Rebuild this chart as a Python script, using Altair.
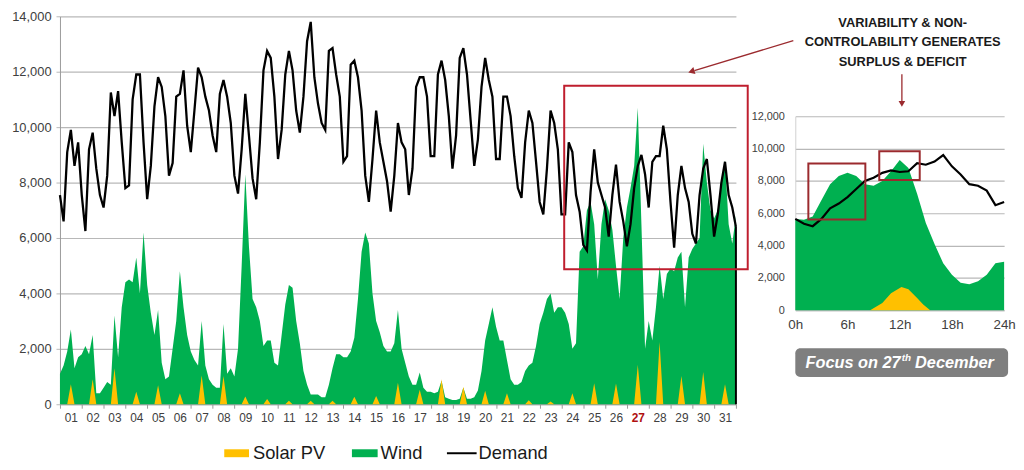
import altair as alt
import pandas as pd

# ---------------- data ----------------
DAY_LABELS = [f"{d:02d}" for d in range(1, 32)]
HOURS_OF_DAY = [0, 4, 8, 12, 16, 20]

demand_by_day = [
    [7550, 6600, 9100, 9900, 8600, 9450],
    [7550, 6250, 9200, 9800, 8500, 7550],
    [7100, 8250, 11250, 10400, 11300, 9450],
    [7800, 7900, 11000, 11900, 11900, 9450],
    [7400, 8600, 10750, 11800, 11450, 10400],
    [8250, 8700, 11100, 11200, 12050, 10050],
    [9100, 10600, 12150, 11800, 11100, 10600],
    [9700, 9100, 11200, 11700, 11100, 10150],
    [8250, 7600, 9200, 11200, 9700, 8150],
    [7400, 9450, 12050, 12750, 12500, 11100],
    [8850, 9900, 11900, 12750, 12050, 10600],
    [9800, 11100, 13100, 13800, 11800, 10850],
    [10150, 9900, 12750, 12850, 11900, 11100],
    [8750, 8950, 12250, 12400, 11800, 10600],
    [8250, 7300, 8850, 10600, 9450, 8750],
    [8050, 6950, 8250, 10150, 9450, 9200],
    [7550, 8500, 11450, 11800, 11800, 11100],
    [8950, 8950, 11900, 12400, 11700, 10400],
    [8500, 9700, 12500, 12850, 11900, 10250],
    [8600, 9550, 11450, 12500, 11700, 11100],
    [8850, 8850, 11100, 11100, 10400, 8950],
    [7800, 7450, 9450, 10600, 10150, 8750],
    [7300, 6850, 8500, 10600, 10150, 9200],
    [6850, 6850, 9450, 9100, 7550, 6950],
    [5750, 5550, 7650, 9200, 8000, 7550],
    [7100, 6050, 7550, 8650, 7300, 6600],
    [5700, 6500, 7800, 8600, 9000, 8300],
    [7100, 8750, 8950, 8950, 10050, 9200],
    [7300, 5650, 7550, 8600, 7800, 7300],
    [6150, 5800, 7550, 8500, 8850, 7550],
    [6050, 6850, 8000, 8750, 7550, 7100],
]
end_demand = 6400

wind_by_day = [
    [1100, 1400, 1900, 2700, 1300, 1700],
    [1800, 2100, 1800, 2500, 400, 400],
    [600, 800, 700, 3200, 1700, 3500],
    [4400, 4500, 4400, 5300, 4000, 6200],
    [4300, 3300, 2500, 3400, 1500, 900],
    [1000, 2000, 3000, 4800, 3500, 2500],
    [1900, 1600, 1400, 3000, 1400, 900],
    [700, 600, 600, 2900, 1100, 1300],
    [1000, 2000, 5000, 8300, 5700, 3800],
    [3500, 3000, 2100, 2300, 2300, 1500],
    [1400, 2500, 3600, 4300, 4200, 3000],
    [2200, 1200, 700, 350, 350, 350],
    [250, 250, 700, 1300, 1800, 1800],
    [1700, 1700, 1900, 2400, 3800, 5500],
    [6200, 5800, 4000, 3000, 2600, 2100],
    [1900, 1900, 2200, 3400, 2000, 1500],
    [1000, 700, 700, 1150, 600, 450],
    [450, 400, 450, 850, 250, 200],
    [150, 150, 200, 600, 200, 200],
    [250, 500, 1200, 2300, 2900, 3500],
    [2800, 2300, 2300, 1600, 900, 700],
    [700, 800, 1200, 1400, 1500, 2100],
    [2900, 3300, 3800, 4000, 3300, 3500],
    [3500, 3300, 2900, 2000, 2200, 5500],
    [5700, 7000, 7300, 6500, 4500, 6500],
    [7400, 7000, 6300, 5000, 3800, 6000],
    [7100, 7800, 8600, 10700, 6500, 2000],
    [3000, 2300, 3500, 5000, 3800, 4700],
    [4900, 4800, 5300, 5500, 3500, 5300],
    [5600, 5800, 6000, 9400, 8000, 7000],
    [6700, 7000, 8000, 8800, 6500, 5800],
]
end_wind = 6800

solar_noon_peak = [720, 900, 1300, 450, 690, 400, 1040, 1020, 280, 190, 130,
                   130, 130, 270, 300, 780, 520, 900, 630, 490, 400, 140, 100,
                   400, 760, 750, 1430, 2250, 1020, 1160, 720]

# focus day (27 December), hourly
inset_hours = list(range(25))
inset_wind = [5650, 5600, 5800, 6800, 7800, 8300, 8500, 8300, 7800, 7700,
              8000, 8600, 9300, 8800, 7200, 5400, 4100, 2900, 2200, 1700,
              1600, 1800, 2200, 2900, 3000]
inset_demand = [5650, 5350, 5200, 5650, 6300, 6600, 7000, 7500, 8000, 8200,
                8500, 8650, 8550, 8600, 9100, 9000, 9200, 9600, 8900, 8400,
                7800, 7700, 7400, 6500, 6700]
inset_solar_hours = [8.6, 10, 11, 12.2, 13, 14, 14.7, 15.5]
inset_solar = [0, 450, 1050, 1430, 1300, 750, 350, 0]

# highlighted regions (hours, MW)
main_box_hours = [555, 757]
main_box_mw = [4870, 11490]
inset_box1_hours = [1.5, 8.05]
inset_box1_mw = [5610, 9080]
inset_box2_hours = [9.65, 14.3]
inset_box2_mw = [8055, 9830]

annotation_lines = ["VARIABILITY & NON-", "CONTROLABILITY GENERATES", "SURPLUS & DEFICIT"]
legend_labels = ["Solar PV", "Wind", "Demand"]

# ---------------- styling ----------------
GREEN = "#00B050"
YELLOW = "#FFC000"
GRID = "#b8b8b8"
AXIS_GREY = "#9a9a9a"
LABEL = "#404040"
RED = "#bf1e2e"
DARK_RED = "#9b2a2e"
FONT = "Liberation Sans"
MAIN_H = 392
TOP = 13.5  # page y of the main plot's top edge (approx.)

# ---------------- tables ----------------
rows = []
for d in range(31):
    for i, h in enumerate(HOURS_OF_DAY):
        rows.append({"hour": 24 * d + h, "demand": demand_by_day[d][i], "wind": wind_by_day[d][i]})
rows.append({"hour": 744, "demand": end_demand, "wind": end_wind})
main_df = pd.DataFrame(rows)

srows = [{"hour": 0, "solar": 0}]
for d, p in enumerate(solar_noon_peak):
    srows += [{"hour": 24 * d + 8, "solar": 0}, {"hour": 24 * d + 12, "solar": p},
              {"hour": 24 * d + 16, "solar": 0}]
srows.append({"hour": 744, "solar": 0})
solar_df = pd.DataFrame(srows)

inset_df = pd.DataFrame({"hour": inset_hours, "wind": inset_wind, "demand": inset_demand})
inset_solar_df = pd.DataFrame({"hour": inset_solar_hours, "solar": inset_solar})
one = pd.DataFrame({"a": [0]})

# ---------------- main chart ----------------
x_main = alt.Scale(domain=[0, 744], nice=False, zero=False)
y_main = alt.Scale(domain=[0, 14000], nice=False)
x_axis = alt.Axis(
    values=list(range(0, 745, 24)),
    labelExpr="datum.value >= 744 ? '' : format(datum.value / 24 + 1, '02d')",
    labelOffset=11, tickSize=4, tickColor=AXIS_GREY, domainColor=AXIS_GREY,
    labelColor={"condition": {"test": "datum.value == 624", "value": "#b01010"}, "value": LABEL},
    labelFontWeight={"condition": {"test": "datum.value == 624", "value": "bold"}, "value": "normal"},
    labelFontSize=12, labelPadding=4, grid=False, title=None, labelFlush=False,
    labelOverlap=False)
y_axis = alt.Axis(
    values=list(range(0, 14001, 2000)), format=",d", grid=True, gridColor=GRID,
    gridWidth=1.2, tickSize=4, tickColor=GRID, domainColor=AXIS_GREY,
    labelFontSize=13, labelPadding=5, labelColor=LABEL, title=None, labelFlush=False)


def X(field):
    return alt.X(field, type="quantitative", scale=x_main, axis=x_axis)


def Y(field):
    return alt.Y(field, type="quantitative", scale=y_main, axis=y_axis)


wind_area = alt.Chart(main_df).mark_area(color=GREEN, opacity=1).encode(x=X("hour"), y=Y("wind"))
solar_area = alt.Chart(solar_df).mark_area(color=YELLOW, opacity=1).encode(x=X("hour"), y=Y("solar"))
demand_line = alt.Chart(main_df).mark_line(color="black", strokeWidth=2.3).encode(x=X("hour"), y=Y("demand"))
end_rule = alt.Chart(pd.DataFrame({"hour": [744], "lo": [0], "hi": [end_demand]})).mark_rule(
    color="black", strokeWidth=2).encode(x=X("hour"), y=Y("lo"), y2="hi")
main_box = alt.Chart(pd.DataFrame({"h0": [main_box_hours[0]], "h1": [main_box_hours[1]],
                                   "m0": [main_box_mw[0]], "m1": [main_box_mw[1]]})).mark_rect(
    fillOpacity=0, stroke=RED, strokeWidth=2).encode(x=X("h0"), x2="h1", y=Y("m0"), y2="m1")

arrow_line = alt.Chart(one).mark_rule(color=DARK_RED, strokeWidth=1.3).encode(
    x=alt.value(741), y=alt.value(38 - TOP), x2=alt.value(641), y2=alt.value(68.5 - TOP))
arrow_head = alt.Chart(one).mark_point(shape="triangle", filled=True, size=55, angle=253,
                                       color=DARK_RED, opacity=1).encode(
    x=alt.value(639), y=alt.value(69 - TOP))

# legend (manual)
LEG_Y = 455 - TOP
leg_solar = alt.Chart(one).mark_rect(color=YELLOW).encode(
    x=alt.value(166), x2=alt.value(191), y=alt.value(LEG_Y - 4), y2=alt.value(LEG_Y + 4))
leg_wind = alt.Chart(one).mark_rect(color=GREEN).encode(
    x=alt.value(295), x2=alt.value(321), y=alt.value(LEG_Y - 4), y2=alt.value(LEG_Y + 4))
leg_demand = alt.Chart(one).mark_rule(color="black", strokeWidth=2).encode(
    x=alt.value(391), x2=alt.value(421), y=alt.value(LEG_Y))
leg_texts = []
for lbl, xx in zip(legend_labels, [195, 324, 423]):
    leg_texts.append(alt.Chart(pd.DataFrame({"t": [lbl]})).mark_text(
        align="left", baseline="middle", fontSize=18.5, color="#1a1a1a", font=FONT).encode(
        text="t:N", x=alt.value(xx), y=alt.value(LEG_Y)))

main = alt.layer(wind_area, solar_area, demand_line, end_rule, main_box, arrow_line, arrow_head,
                 leg_solar, leg_wind, leg_demand, *leg_texts).properties(width=683, height=MAIN_H)

# ---------------- annotation (above inset) ----------------
ann_layers = []
for i, line in enumerate(annotation_lines):
    ann_layers.append(alt.Chart(pd.DataFrame({"t": [line]})).mark_text(
        align="center", baseline="middle", fontSize=13, fontWeight="bold", color="#1a1a1a",
        font=FONT).encode(text="t:N", x=alt.value(108.5), y=alt.value(20 - TOP + 20 * i)))
ann_layers.append(alt.Chart(one).mark_rule(color=DARK_RED, strokeWidth=1.3).encode(
    x=alt.value(107.7), y=alt.value(72 - TOP), y2=alt.value(101 - TOP)))
ann_layers.append(alt.Chart(one).mark_point(shape="triangle-down", filled=True, size=45,
                                            color=DARK_RED, opacity=1).encode(
    x=alt.value(107.7), y=alt.value(102 - TOP)))
annotation = alt.layer(*ann_layers).properties(width=211, height=114.3 - TOP)

# ---------------- inset (27 December) ----------------
x_in = alt.Scale(domain=[0, 24], nice=False, zero=False)
y_in = alt.Scale(domain=[0, 12000], nice=False)
x_in_axis = alt.Axis(values=[0, 6, 12, 18, 24], labelExpr="datum.value + 'h'", ticks=False,
                     domainColor=GRID, labelFontSize=13.5, labelPadding=7, labelColor=LABEL,
                     grid=False, title=None, labelFlush=False)
y_in_axis = alt.Axis(values=list(range(0, 12001, 2000)), format=",d", grid=True, gridColor=GRID,
                     gridWidth=1.2, ticks=False, domainColor="#d0d0d0", labelFontSize=11,
                     labelPadding=11, labelColor=LABEL, title=None, labelFlush=False)


def XI(field):
    return alt.X(field, type="quantitative", scale=x_in, axis=x_in_axis)


def YI(field):
    return alt.Y(field, type="quantitative", scale=y_in, axis=y_in_axis)


in_wind = alt.Chart(inset_df).mark_area(color=GREEN, opacity=1).encode(x=XI("hour"), y=YI("wind"))
in_solar = alt.Chart(inset_solar_df).mark_area(color=YELLOW, opacity=1).encode(x=XI("hour"), y=YI("solar"))
in_demand = alt.Chart(inset_df).mark_line(color="black", strokeWidth=2.2).encode(x=XI("hour"), y=YI("demand"))
in_boxes = alt.Chart(pd.DataFrame({
    "h0": [inset_box1_hours[0], inset_box2_hours[0]], "h1": [inset_box1_hours[1], inset_box2_hours[1]],
    "m0": [inset_box1_mw[0], inset_box2_mw[0]], "m1": [inset_box1_mw[1], inset_box2_mw[1]]})).mark_rect(
    fillOpacity=0, stroke=DARK_RED, strokeWidth=2).encode(x=XI("h0"), x2="h1", y=YI("m0"), y2="m1")
inset = alt.layer(in_wind, in_solar, in_demand, in_boxes).properties(width=211, height=196)

# ---------------- focus label ----------------
focus_box = alt.Chart(one).mark_rect(color="#7f7f7f", cornerRadius=5).encode(
    x=alt.value(0), x2=alt.value(215), y=alt.value(38.5), y2=alt.value(67.5))
focus_a = alt.Chart(pd.DataFrame({"t": ["Focus on 27"]})).mark_text(
    align="right", baseline="middle", fontSize=16.5, fontWeight="bold", fontStyle="italic",
    color="white", font=FONT).encode(text="t:N", x=alt.value(106.5), y=alt.value(53.5))
focus_b = alt.Chart(pd.DataFrame({"t": ["th"]})).mark_text(
    align="left", baseline="middle", fontSize=10, fontWeight="bold", fontStyle="italic",
    color="white", font=FONT).encode(text="t:N", x=alt.value(107.5), y=alt.value(48))
focus_c = alt.Chart(pd.DataFrame({"t": ["December"]})).mark_text(
    align="left", baseline="middle", fontSize=16.5, fontWeight="bold", fontStyle="italic",
    color="white", font=FONT).encode(text="t:N", x=alt.value(121), y=alt.value(53.5))
focus = alt.layer(focus_box, focus_a, focus_b, focus_c).properties(width=215, height=70)

right = alt.vconcat(annotation, inset, focus, spacing=0, bounds="flush")

chart = alt.hconcat(main, right, spacing=60, bounds="flush").properties(
    padding={"left": 3.5, "top": 0, "right": 0, "bottom": 0}
).configure(font=FONT).configure_view(strokeWidth=0).configure_axis(labelFont=FONT)

chart.save("out.html", embed_options={"renderer": "svg", "actions": False})
